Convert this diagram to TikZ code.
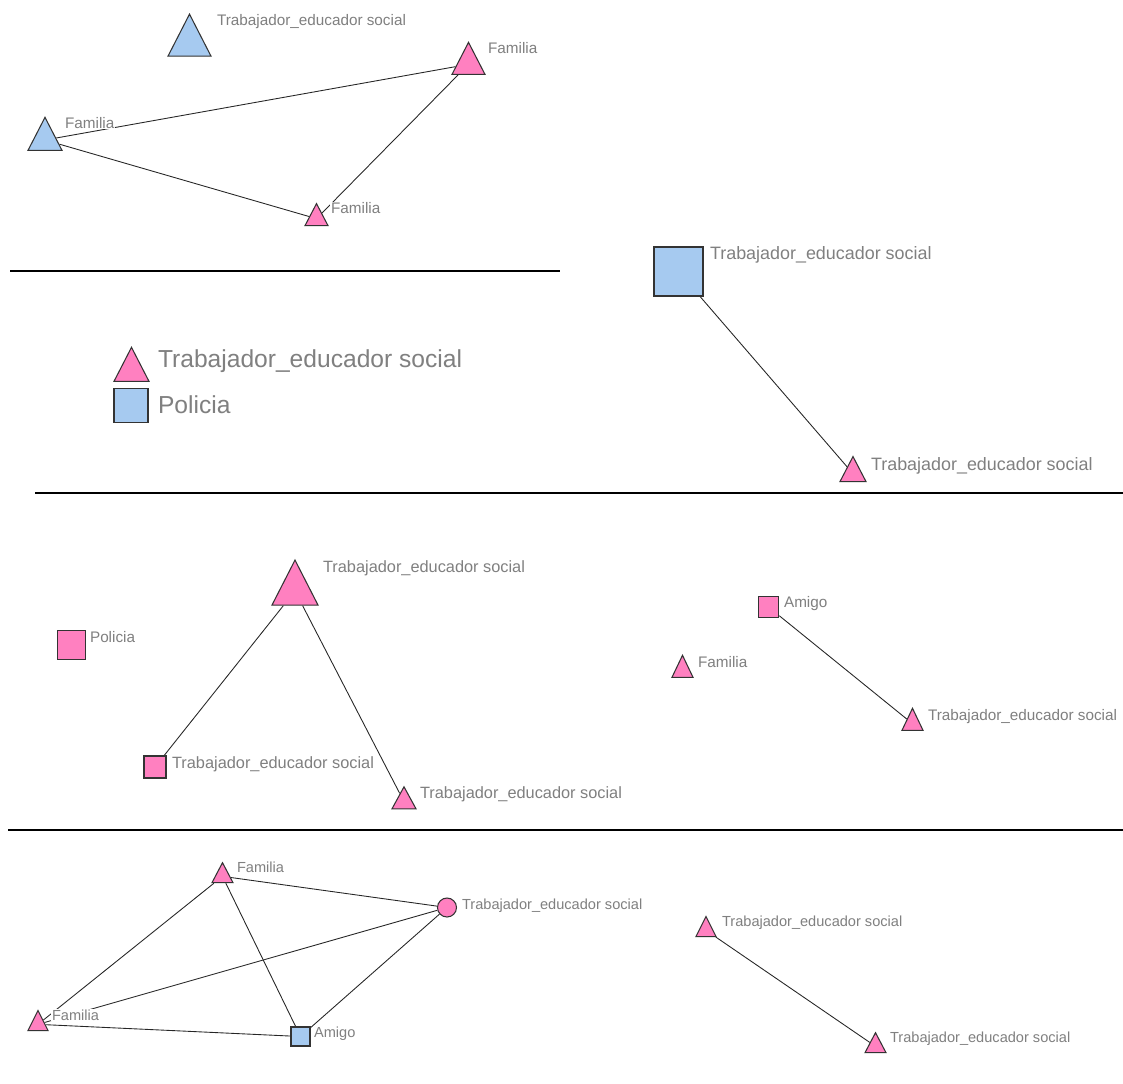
\documentclass[tikz,border=0pt]{standalone}
\usepackage{fontspec}
\setmainfont{Liberation Sans}
\usetikzlibrary{shapes.geometric}
\pgfdeclarelayer{bg}
\pgfsetlayers{bg,main}
\definecolor{nodepink}{RGB}{255,128,192}
\definecolor{nodeblue}{RGB}{166,202,240}
\definecolor{lblgray}{RGB}{128,128,128}
\newcommand{\pxu}{0.02cm}

\begin{document}
\begin{tikzpicture}[x=0.02cm,y=-0.02cm,
        tri/.style 2 args={isosceles triangle,isosceles triangle stretches,shape border rotate=90,draw=black!80,line width=0.6pt,inner sep=0pt,minimum width=#1*\pxu,minimum height=#2*\pxu,yshift=-#2/6*\pxu},
        sq/.style={rectangle,draw=black!80,line width=0.6pt,inner sep=0pt,minimum size=#1*\pxu},
        ndot/.style={circle,draw=black!80,line width=0.6pt,inner sep=0pt,minimum size=#1*\pxu},
        pk/.style={fill=nodepink},
        bl/.style={fill=nodeblue},
        lbl/.style={anchor=base west,text=lblgray,fill=white,inner sep=0.4pt,font=\fontsize{8.7}{10}\selectfont},
        lblsm/.style={lbl,font=\fontsize{8.3}{10}\selectfont},
        lbllg/.style={lbl,font=\fontsize{9.3}{11}\selectfont},
        lblmid/.style={lbl,font=\fontsize{10.2}{12}\selectfont},
        lblbig/.style={lbl,font=\fontsize{14}{16}\selectfont},
        tie/.style={draw=black!85,line width=0.5pt},
        divider/.style={draw=black,line width=1.2pt}]
        \useasboundingbox (0,0) rectangle (1123,1083);

        \node[tri={43}{42},bl] (ts1) at (189.5,36) {};
        \node[lbl] (ts1l) at (216,25) {Trabajador\_educador social};
        \node[tri={33}{32},pk] (fa1) at (468.5,59) {};
        \node[lbl] (fa1l) at (487,53.5) {Familia};
        \node[tri={34}{33},bl] (fa2) at (45,134.5) {};
        \node[lbl] (fa2l) at (64,128.5) {Familia};
        \node[tri={23}{22},pk] (fa3) at (316.5,215) {};
        \node[lbl] (fa3l) at (330,213.5) {Familia};

        \node[tri={35}{34},pk] (keytri) at (131.5,365) {};
        \node[lblbig] (keytril) at (157,367) {Trabajador\_educador social};
        \node[sq=34,bl] (keysq) at (131,405.5) {};
        \node[lblbig] (keysql) at (157,413) {Policia};
        \node[sq=49,bl] (ts2) at (678.5,271.5) {};
        \node[lblmid] (ts2l) at (709,259.5) {Trabajador\_educador social};
        \node[tri={26}{25},pk] (ts3) at (853,469.5) {};
        \node[lblmid] (ts3l) at (870,470) {Trabajador\_educador social};

        \node[tri={46}{45},pk] (ts4) at (295,583.5) {};
        \node[lbllg] (ts4l) at (322,572) {Trabajador\_educador social};
        \node[sq=28.5,pk] (po1) at (71.5,645) {};
        \node[lbl] (po1l) at (89,642) {Policia};
        \node[sq=22,pk] (ts5) at (155,767) {};
        \node[lbllg] (ts5l) at (171,768) {Trabajador\_educador social};
        \node[tri={24}{22},pk] (ts6) at (404,798) {};
        \node[lbllg] (ts6l) at (419,798) {Trabajador\_educador social};
        \node[sq=20.5,pk] (am1) at (768.5,607) {};
        \node[lbl] (am1l) at (783,607) {Amigo};
        \node[tri={21}{22},pk] (fa4) at (682.5,667) {};
        \node[lbl] (fa4l) at (697,667) {Familia};
        \node[tri={21}{22},pk] (ts7) at (912.5,720) {};
        \node[lbl] (ts7l) at (927,720) {Trabajador\_educador social};

        \node[tri={21}{20},pk] (fa5) at (222.5,873) {};
        \node[lblsm] (fa5l) at (236,872) {Familia};
        \node[tri={20}{20},pk] (fa6) at (38,1021) {};
        \node[lblsm] (fa6l) at (51,1020) {Familia};
        \node[sq=19,bl] (am2) at (300.5,1036.5) {};
        \node[lblsm] (am2l) at (313,1037) {Amigo};
        \node[ndot=19,pk] (ts8) at (447,907.5) {};
        \node[lblsm] (ts8l) at (461,909) {Trabajador\_educador social};
        \node[tri={20}{20},pk] (ts9) at (706,927) {};
        \node[lblsm] (ts9l) at (721,926) {Trabajador\_educador social};
        \node[tri={21}{20},pk] (ts10) at (875.5,1043) {};
        \node[lblsm] (ts10l) at (889,1042) {Trabajador\_educador social};

        \begin{pgfonlayer}{bg}
        \draw[tie] (fa2) -- (fa1);
        \draw[tie] (fa2) -- (fa3);
        \draw[tie] (fa1) -- (fa3);
        \draw[tie] (ts2) -- (ts3);
        \draw[tie] (ts4) -- (ts5);
        \draw[tie] (ts4) -- (ts6);
        \draw[tie] (am1) -- (ts7);
        \draw[tie] (fa5) -- (ts8);
        \draw[tie] (fa5) -- (fa6);
        \draw[tie] (fa5) -- (am2);
        \draw[tie] (fa6) -- (ts8);
        \draw[tie] (fa6) -- (am2);
        \draw[tie] (am2) -- (ts8);
        \draw[tie] (ts9) -- (ts10);
        \end{pgfonlayer}

        \draw[divider] (10,271) -- (560,271);
        \draw[divider] (35,493) -- (1123,493);
        \draw[divider] (8,830) -- (1123,830);
\end{tikzpicture}
\end{document}
